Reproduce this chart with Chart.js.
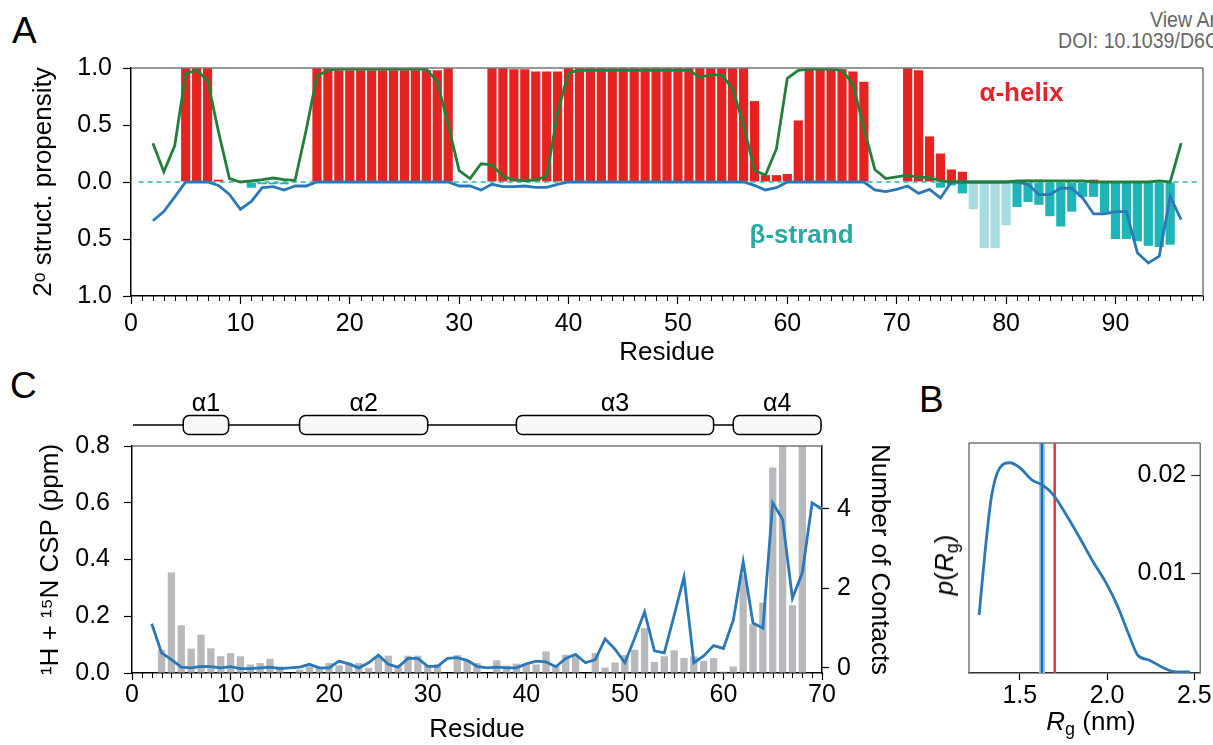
<!DOCTYPE html>
<html>
<head>
<meta charset="utf-8">
<script src="https://cdn.jsdelivr.net/npm/chart.js@4.4.1/dist/chart.umd.min.js"></script>
<style>
  html, body { margin: 0; padding: 0; background: #fff; }
  body { position: relative; width: 1213px; height: 745px; overflow: hidden; font-family: "Liberation Sans", Arial, sans-serif; }
  canvas { position: absolute; }
  .letter { position: absolute; font-size: 37px; line-height: 1; color: #000; }
  .header { position: absolute; font-family: "Liberation Sans", sans-serif; font-size: 22px; line-height: 1; color: #666;
    white-space: nowrap; transform: scaleX(0.89); transform-origin: left top; }
  .atitle { position: absolute; font-size: 26px; line-height: 1; white-space: nowrap; }
  .atitle sub { font-size: 18px; vertical-align: baseline; position: relative; top: 5px; }
</style>
</head>
<body>
<div class="letter" style="left:12px;top:12px">A</div>
<div class="letter" style="left:10px;top:367px">C</div>
<div class="letter" style="left:919px;top:381px">B</div>
<div class="header" style="left:1150px;top:9px">View Arti</div>
<div class="header" style="left:1058px;top:30px">DOI: 10.1039/D6C</div>

<canvas id="chartA" width="1213" height="335" style="left:0;top:40px"></canvas>
<canvas id="chartC" width="900" height="370" style="left:0;top:375px"></canvas>
<canvas id="chartB" width="313" height="370" style="left:900px;top:375px"></canvas>

<div class="atitle" style="left:944px;top:565px;transform:translate(-50%,-50%) rotate(-90deg)"><i>p</i>(<i>R</i><sub>g</sub>)</div>
<div class="atitle" style="left:1091px;top:721px;transform:translate(-50%,-50%)"><i>R</i><sub>g</sub> (nm)</div>

<script>
// ---- panel A: secondary structure propensity per residue ----
const residuesA = [2, 3, 4, 5, 6, 7, 8, 9, 10, 11, 12, 13, 14, 15, 16, 17, 18, 19, 20, 21, 22, 23, 24,
  25, 26, 27, 28, 29, 30, 31, 32, 33, 34, 35, 36, 37, 38, 39, 40, 41, 42, 43, 44, 45, 46, 47, 48, 49,
  50, 51, 52, 53, 54, 55, 56, 57, 58, 59, 60, 61, 62, 63, 64, 65, 66, 67, 68, 69, 70, 71, 72, 73, 74,
  75, 76, 77, 78, 79, 80, 81, 82, 83, 84, 85, 86, 87, 88, 89, 90, 91, 92, 93, 94, 95, 96];
const helixA = [0, 0, 0, 1, 1, 1, 0.02, 0, 0, 0, 0, 0, 0, 0, 0,
  1, 1, 0.98, 0.98, 0.98, 0.98, 0.98, 0.98, 0.98, 0.98, 0.98, 0.98, 1, 0, 0,
  0, 1, 1, 0.99, 0.99, 0.97, 0.97, 0.97, 1, 1, 1, 1, 1, 1, 1,
  1, 1, 1, 1, 1, 1, 1, 1, 1, 1, 0.71, 0.06, 0.06, 0.07, 0.54,
  1, 1, 1, 0.99, 0.97, 0.88, 0, 0, 0, 1, 0.98, 0.4, 0.25, 0.11, 0.09,
  0, 0, 0, 0, 0, 0.02, 0.02, 0, 0, 0, 0, 0.02, 0, 0, 0,
  0, 0, 0, 0, 0];
const strandResidues = [11, 12, 13, 14, 74, 75, 76, 81, 82, 83, 84, 85, 86, 87, 88, 89, 90, 91, 92, 93, 94, 95];
const strandA = [-0.05, -0.02, -0.02, -0.02, -0.05, -0.03, -0.1, -0.22, -0.175, -0.2, -0.3, -0.39,
  -0.26, -0.13, -0.13, -0.27, -0.5, -0.5, -0.52, -0.56, -0.57, -0.55];
const strandLightResidues = [77, 78, 79, 80];
const strandLightA = [-0.24, -0.58, -0.58, -0.38];
const helixLineA = [0.34, 0.09, 0.32, 0.95, 0.98, 0.89, 0.44, 0.03, 0, 0.01, 0.02, 0.035, 0.02, 0.015, 0.45,
  0.93, 0.98, 0.99, 0.99, 0.99, 0.99, 0.99, 0.99, 0.99, 0.99, 0.99, 0.88, 0.5, 0.1, 0.03,
  0.16, 0.15, 0.05, 0.02, 0.01, 0.02, 0.05, 0.61, 0.96, 0.98, 0.98, 0.98, 0.98, 0.98, 0.98,
  0.98, 0.98, 0.98, 0.98, 0.98, 0.92, 0.94, 0.94, 0.82, 0.5, 0.1, 0.06, 0.29, 0.91, 0.98,
  0.99, 0.99, 0.99, 0.98, 0.86, 0.47, 0.11, 0.03, 0.045, 0.06, 0.04, 0.04, 0.01, 0, 0,
  0, 0, 0, 0, 0.01, 0.01, 0.01, 0.01, 0.01, 0.01, 0.01, 0, 0, 0, 0,
  0, 0, 0.01, 0, 0.34];
const strandLineA = [-0.34, -0.26, -0.13, 0, 0, 0, -0.03, -0.11, -0.24, -0.17, -0.05, -0.04, -0.07, -0.035, -0.035,
  0, 0, 0, 0, 0, 0, 0, 0, 0, 0, 0, 0, 0, -0.035, -0.035,
  -0.07, -0.02, -0.04, -0.04, -0.035, -0.047, -0.047, -0.02, 0, 0, 0, 0, 0, 0, 0,
  0, 0, 0, 0, 0, 0, 0, 0, 0, 0, -0.03, -0.07, -0.05, 0, 0,
  0, 0, 0, 0, 0, 0, -0.07, -0.085, -0.065, -0.035, -0.1, -0.065, -0.14, 0, 0,
  0, 0, 0, 0, 0, -0.02, -0.11, -0.11, -0.055, -0.055, -0.14, -0.28, -0.28, -0.26, -0.26,
  -0.62, -0.71, -0.65, -0.13, -0.33];
const zeroLineA = [0.7, 97.5];
const xTicksA = [0, 10, 20, 30, 40, 50, 60, 70, 80, 90];
const yTicksA = [-1, -0.5, 0, 0.5, 1];

// ---- panel C: chemical shift perturbation and contacts ----
const residuesC = [2, 3, 4, 5, 6, 7, 8, 9, 10, 11, 12, 13, 14, 15, 16, 17, 18, 19, 20, 21, 22, 23, 24,
  25, 26, 27, 28, 29, 30, 31, 32, 33, 34, 35, 36, 37, 38, 39, 40, 41, 42, 43, 44, 45, 46, 47, 48, 49,
  50, 51, 52, 53, 54, 55, 56, 57, 58, 59, 60, 61, 62, 63, 64, 65, 66, 67, 68, 69, 70];
const cspC = [0, 0.082, 0.354, 0.168, 0.086, 0.135, 0.087, 0.059, 0.07, 0.059,
  0.03, 0.035, 0.05, 0.023, 0, 0.012, 0.023, 0.021, 0.035, 0.027,
  0.037, 0.035, 0.018, 0.059, 0.061, 0.021, 0.061, 0.061, 0.026, 0.032,
  0, 0.063, 0.045, 0.035, 0, 0.045, 0.026, 0.033, 0.03, 0.03,
  0.076, 0.026, 0.064, 0.059, 0, 0.07, 0.019, 0.037, 0.063, 0.082,
  0.158, 0.039, 0.059, 0.08, 0.053, 0.059, 0.043, 0.053, 0.005, 0.023,
  0.346, 0.172, 0.248, 0.724, 0.85, 0.239, 0.85, 0, 0];
const contactsC = [1.11, 0.38, 0.21, 0.02, 0, 0.04, 0.03, 0, 0.03, -0.02,
  -0.02, 0, 0.02, -0.02, 0, 0.02, 0.09, 0, 0, 0.17,
  0.1, 0, 0.13, 0.32, 0.09, 0.02, 0.24, 0.24, 0.04, 0.04,
  0.24, 0.26, 0.19, 0.04, 0, 0.02, 0, 0, 0.1, 0.17,
  0.15, 0.03, 0.24, 0.34, 0.13, 0.21, 0.73, 0.47, 0.13, 0.75,
  1.41, 0.43, 0.38, 1.32, 2.29, 0.13, 0.3, 0.56, 0.49, 1.2,
  2.67, 1.13, 1.0, 4.15, 3.74, 1.75, 2.39, 4.15, 3.99];
const xTicksC = [0, 10, 20, 30, 40, 50, 60, 70];
const yTicksC = [0, 0.2, 0.4, 0.6, 0.8];
const y2TicksC = [0, 2, 4];
const helixNames = ['α1', 'α2', 'α3', 'α4'];
const helixStart = [5.2, 17, 39, 61];
const helixEnd = [9.8, 30, 59, 69.9];
const backbone = [0.1, 70];

// ---- panel B: radius of gyration distribution ----
const rgB = [1.267, 1.3, 1.338, 1.386, 1.443, 1.5, 1.567, 1.633, 1.69, 1.767,
  1.843, 1.919, 1.995, 2.062, 2.129, 2.176, 2.243, 2.319, 2.395, 2.475];
const pB = [0.0058, 0.012, 0.0178, 0.0207, 0.0212, 0.0207, 0.0195, 0.0189, 0.018, 0.0159,
  0.0136, 0.0112, 0.009, 0.0066, 0.0036, 0.0017, 0.0012, 0.00045, 0, 0];
const rgMeans = [1.627, 1.70];
const xTicksB = [1.5, 2.0, 2.5];
const yTicksB = [0.01, 0.02];

Chart.defaults.font.family = '"Liberation Sans", Arial, sans-serif';
Chart.defaults.color = '#000';

const BLUE = '#2a78b8';
const GREEN = '#23803a';
const RED = '#e52421';
const TEAL = '#1fb5b8';
const LINE_W = 2.8;

const pts = (xs, ys) => xs.map((x, i) => ({ x: x, y: ys[i] }));
const setTicks = (list) => (scale) => { scale.ticks = list.map((v) => ({ value: v })); };

// gray lines on the sides of the plot frame that carry no axis
const frameLines = {
  id: 'frameLines',
  afterDatasetsDraw(chart, args, opts) {
    const { ctx, chartArea: { left, right, top, bottom } } = chart;
    ctx.save();
    ctx.strokeStyle = opts.color || '#777';
    ctx.lineWidth = 1.5;
    ctx.beginPath();
    (opts.sides || []).forEach((side) => {
      if (side === 'top') { ctx.moveTo(left, top); ctx.lineTo(right, top); }
      if (side === 'right') { ctx.moveTo(right, top); ctx.lineTo(right, bottom); }
      if (side === 'left') { ctx.moveTo(left, top); ctx.lineTo(left, bottom); }
    });
    ctx.stroke();
    ctx.restore();
  },
};

// short ticks at every residue between the labelled ones
const minorTicks = {
  id: 'minorTicks',
  afterDraw(chart, args, opts) {
    const { ctx, chartArea, scales: { x } } = chart;
    ctx.save();
    ctx.strokeStyle = '#000';
    ctx.lineWidth = 1;
    for (let v = Math.ceil(x.min); v <= x.max; v++) {
      if (v % 10 === 0) continue;
      const px = Math.round(x.getPixelForValue(v)) + 0.5;
      ctx.beginPath();
      ctx.moveTo(px, chartArea.bottom);
      ctx.lineTo(px, chartArea.bottom + opts.length);
      ctx.stroke();
    }
    ctx.restore();
  },
};

const textLabels = {
  id: 'textLabels',
  afterDraw(chart, args, opts) {
    const { ctx, scales: { x, y } } = chart;
    ctx.save();
    ctx.font = 'bold 26px "Liberation Sans", Arial, sans-serif';
    ctx.textAlign = 'center';
    ctx.textBaseline = 'middle';
    (opts.items || []).forEach((it) => {
      ctx.fillStyle = it.color;
      ctx.fillText(it.text, x.getPixelForValue(it.x), y.getPixelForValue(it.y));
    });
    ctx.restore();
  },
};

// helix topology cartoon above panel C
const topology = {
  id: 'topology',
  afterDraw(chart, args, opts) {
    const { ctx, scales: { x } } = chart;
    const yLine = opts.y;
    ctx.save();
    ctx.strokeStyle = '#000';
    ctx.lineWidth = 1.5;
    ctx.beginPath();
    ctx.moveTo(x.getPixelForValue(backbone[0]), yLine);
    ctx.lineTo(x.getPixelForValue(backbone[1]), yLine);
    ctx.stroke();
    ctx.font = '25px "Liberation Sans", Arial, sans-serif';
    ctx.textAlign = 'center';
    ctx.textBaseline = 'middle';
    helixNames.forEach((name, i) => {
      const x0 = x.getPixelForValue(helixStart[i]);
      const x1 = x.getPixelForValue(helixEnd[i]);
      ctx.beginPath();
      ctx.roundRect(x0, yLine - 9.5, x1 - x0, 19, 6);
      ctx.fillStyle = '#f8f8f8';
      ctx.fill();
      ctx.stroke();
      ctx.fillStyle = '#000';
      ctx.fillText(name, (x0 + x1) / 2, yLine - 21);
    });
    ctx.restore();
  },
};

// panel B has its y labels inside the frame on the right
const insideTicks = {
  id: 'insideTicks',
  afterDraw(chart) {
    const { ctx, chartArea, scales: { y } } = chart;
    ctx.save();
    ctx.strokeStyle = '#333';
    ctx.lineWidth = 1.2;
    ctx.fillStyle = '#000';
    ctx.font = '25px "Liberation Sans", Arial, sans-serif';
    ctx.textAlign = 'right';
    ctx.textBaseline = 'middle';
    y.ticks.forEach((t) => {
      const py = Math.round(y.getPixelForValue(t.value)) + 0.5;
      ctx.beginPath();
      ctx.moveTo(chartArea.right - 9, py);
      ctx.lineTo(chartArea.right, py);
      ctx.stroke();
      ctx.fillText(t.value.toFixed(2), chartArea.right - 14, py);
    });
    ctx.restore();
  },
};

const axisGrid = (len) => ({ drawOnChartArea: false, tickLength: len, color: '#000', tickWidth: 1.2, offset: false });
const axisBorder = { color: '#000', width: 1.5 };

const barDefaults = { grouped: false, categoryPercentage: 1, borderWidth: 0 };

new Chart(document.getElementById('chartA'), {
  type: 'bar',
  data: {
    datasets: [
      { type: 'line', label: 'α-helix propensity', data: pts(residuesA, helixLineA), borderColor: GREEN,
        borderWidth: LINE_W, pointRadius: 0, order: 0 },
      { type: 'line', label: 'β-strand propensity', data: pts(residuesA, strandLineA), borderColor: BLUE,
        borderWidth: LINE_W, pointRadius: 0, order: 1 },
      { type: 'line', label: 'zero', data: pts(zeroLineA, [0, 0]), borderColor: '#2bb3b3',
        borderWidth: 1.5, borderDash: [5, 4], pointRadius: 0, order: 2 },
      { ...barDefaults, label: 'α-helix', data: pts(residuesA, helixA), backgroundColor: RED,
        barPercentage: 0.84, order: 3 },
      { ...barDefaults, label: 'β-strand', data: pts(strandResidues, strandA), backgroundColor: TEAL,
        barPercentage: 0.84, order: 4 },
      { ...barDefaults, label: 'β-strand light', data: pts(strandLightResidues, strandLightA),
        backgroundColor: '#a6dce0', barPercentage: 0.84, order: 5 },
    ],
  },
  options: {
    responsive: false,
    animation: false,
    layout: { padding: { top: 28, right: 10, left: 0, bottom: 0 } },
    plugins: {
      legend: { display: false },
      tooltip: { enabled: false },
      frameLines: { sides: ['top', 'right'], color: '#777' },
      minorTicks: { length: 5 },
      textLabels: {
        items: [
          { text: 'α-helix', x: 81.4, y: 0.77, color: '#e4232b' },
          { text: 'β-strand', x: 61.3, y: -0.474, color: '#27aaa5' },
        ],
      },
    },
    scales: {
      x: {
        type: 'linear', min: 0, max: 98, offset: false,
        afterFit: (s) => { s.height = 79; },
        afterBuildTicks: setTicks(xTicksA),
        grid: axisGrid(8),
        border: axisBorder,
        ticks: { font: { size: 25 }, padding: 5, maxRotation: 0, autoSkip: false, callback: (v) => String(v) },
        title: { display: true, text: 'Residue', font: { size: 26 }, padding: { top: 0, bottom: 7 } },
      },
      y: {
        min: -1, max: 1,
        afterFit: (s) => { s.width = 131; },
        afterBuildTicks: setTicks(yTicksA),
        grid: axisGrid(8),
        border: axisBorder,
        ticks: { font: { size: 25 }, padding: 11, callback: (v) => Math.abs(v).toFixed(1) },
        title: { display: true, text: '2ᵒ struct. propensity', font: { size: 26 }, padding: { top: 28 } },
      },
    },
  },
  plugins: [frameLines, minorTicks, textLabels],
});

new Chart(document.getElementById('chartC'), {
  type: 'bar',
  data: {
    datasets: [
      { type: 'line', label: 'Number of Contacts', data: pts(residuesC, contactsC), yAxisID: 'y2',
        borderColor: BLUE, borderWidth: LINE_W, pointRadius: 0, order: 0 },
      { ...barDefaults, label: 'CSP', data: pts(residuesC, cspC), yAxisID: 'y',
        backgroundColor: '#b8b9bd', barPercentage: 0.74, order: 1 },
    ],
  },
  options: {
    responsive: false,
    animation: false,
    layout: { padding: { top: 71, right: 0, left: 0, bottom: 0 } },
    plugins: {
      legend: { display: false },
      tooltip: { enabled: false },
      frameLines: { sides: ['top'], color: '#777' },
      minorTicks: { length: 5 },
      topology: { y: 50 },
    },
    scales: {
      x: {
        type: 'linear', min: 0, max: 70, offset: false,
        afterFit: (s) => { s.height = 72; },
        afterBuildTicks: setTicks(xTicksC),
        grid: axisGrid(7),
        border: axisBorder,
        ticks: { font: { size: 25 }, padding: 0, maxRotation: 0, autoSkip: false, callback: (v) => String(v) },
        title: { display: true, text: 'Residue', font: { size: 26 }, padding: { top: 0, bottom: 0 } },
      },
      y: {
        position: 'left', min: 0, max: 0.8,
        afterFit: (s) => { s.width = 132; },
        afterBuildTicks: setTicks(yTicksC),
        grid: axisGrid(8),
        border: axisBorder,
        ticks: { font: { size: 25 }, padding: 14, callback: (v) => v.toFixed(1) },
        title: { display: true, text: '¹H + ¹⁵N CSP (ppm)', font: { size: 26 }, padding: { top: 35 } },
      },
      y2: {
        position: 'right', min: -0.128, max: 5.58,
        afterFit: (s) => { s.width = 78; },
        afterBuildTicks: setTicks(y2TicksC),
        grid: axisGrid(7),
        border: axisBorder,
        ticks: { font: { size: 25 }, padding: 8, callback: (v) => String(v) },
        title: { display: true, text: 'Number of Contacts', font: { size: 26 }, padding: { top: 5 } },
      },
    },
  },
  plugins: [frameLines, minorTicks, topology],
});

new Chart(document.getElementById('chartB'), {
  type: 'line',
  data: {
    datasets: [
      { label: 'mean 1 halo', data: pts([rgMeans[0], rgMeans[0]], [-0.0001, 0.0232]), borderColor: '#9fcbe9',
        borderWidth: 6, pointRadius: 0, order: 3 },
      { label: 'mean 1', data: pts([rgMeans[0], rgMeans[0]], [-0.0001, 0.0232]), borderColor: '#1f6fb0',
        borderWidth: 2.5, pointRadius: 0, order: 2 },
      { label: 'mean 2', data: pts([rgMeans[1], rgMeans[1]], [-0.0001, 0.0232]), borderColor: '#e0393e',
        borderWidth: 2.5, pointRadius: 0, order: 1 },
      { label: 'p(Rg)', data: pts(rgB, pB), borderColor: BLUE, borderWidth: LINE_W, pointRadius: 0,
        cubicInterpolationMode: 'monotone', order: 0 },
    ],
  },
  options: {
    responsive: false,
    animation: false,
    layout: { padding: { top: 68, right: 12, left: 69, bottom: 0 } },
    plugins: {
      legend: { display: false },
      tooltip: { enabled: false },
      frameLines: { sides: ['top', 'right', 'left'], color: '#777' },
    },
    scales: {
      x: {
        type: 'linear', min: 1.209, max: 2.534,
        afterFit: (s) => { s.height = 72; },
        afterBuildTicks: setTicks(xTicksB),
        grid: axisGrid(7),
        border: { color: '#333', width: 1.5 },
        ticks: { font: { size: 25 }, padding: 1, maxRotation: 0, autoSkip: false, callback: (v) => v.toFixed(1) },
      },
      y: {
        display: false, min: -0.0001, max: 0.0232,
        afterBuildTicks: setTicks(yTicksB),
      },
    },
  },
  plugins: [frameLines, insideTicks],
});
</script>
</body>
</html>
